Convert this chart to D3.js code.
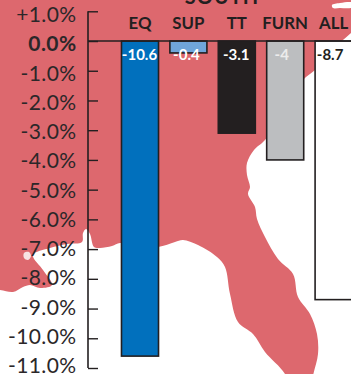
<!DOCTYPE html>
<html>
<head>
<meta charset="utf-8">
<script src="https://cdn.jsdelivr.net/npm/d3@7"></script>
<style>
html,body{margin:0;padding:0;background:#fff}
svg{display:block}
text{font-family:Lato,"Open Sans",sans-serif}
</style>
</head>
<body>
<svg id="chart" width="351" height="374"></svg>
<script>
// Returns by fund category, South region
const categories = ["EQ", "SUP", "TT", "FURN", "ALL"];
const values = [-10.6, -0.4, -3.1, -4, -8.7];
const barFills = ["#0170bd", "#70a5da", "#231f20", "#bcbec0", "#ffffff"];
const labelFills = ["#ffffff", "#ffffff", "#ffffff", "#ececec", "#231f20"];
const tickValues = [1, 0, -1, -2, -3, -4, -5, -6, -7, -8, -9, -10, -11];
const tickLabels = ["+1.0%", "0.0%", "-1.0%", "-2.0%", "-3.0%", "-4.0%", "-5.0%", "-6.0%", "-7.0%", "-8.0%", "-9.0%", "-10.0%", "-11.0%"];

// Outline of the southeastern states behind the bars
const regionOutline = [
  [-20,-20],[371,-20],[371,16],[351,33],[330,52],[315,70],[303,80],[285,110],[265,140],[254,150],[247,163],[247,175],
  [250,187],[248,194],[255,207],[257,219],[265,237],[278,259],[293,274],[298,297],[310,314],[317,334],
  [318,354],[313,376],[310,400],[295,400],[285,374],[265,352],[253,334],[238,322],[230,294],[225,267],[217,257],[198,245],
  [183,240],[175,242],[158,247],[135,246],[120,243],[112,246],[100,248],[94,247],[90,234],[86,229],[83,233],[82,242],[67,244],
  [50,248],[33,255],[43,270],[52,285],[40,288],[30,285],[23,287],[13,292],[0,290],[-20,290]
];
const inletSpot = [[24,253],[29,252],[31,256],[28,260],[24,258]];
const atlanticIsland = [[332,5],[340,3],[351,2],[360,4],[351,8],[340,8],[333,8]];

const svg = d3.select("#chart");

const y = d3.scaleLinear().domain([1, -11]).range([11.3, 368]);
const labelY = d3.scaleLinear().domain([1, -11]).range([15, 366]);
const x = d3.scaleBand().domain(categories).range([115.8, 357.8]).paddingInner(0.235).paddingOuter(0.1175);

const smooth = d3.line().curve(d3.curveCatmullRomClosed.alpha(0.5));
svg.append("path").attr("d", smooth(regionOutline)).attr("fill", "#dd686e");
svg.append("path").attr("d", smooth(inletSpot)).attr("fill", "#f7e3e3");
svg.append("path").attr("d", smooth(atlanticIsland)).attr("fill", "#fff");

svg.append("text").attr("x", 222).attr("y", 4).attr("text-anchor", "middle")
  .attr("font-size", 20).attr("font-weight", 700).attr("letter-spacing", 1).attr("fill", "#231f20").text("SOUTH");

// Bars hang down from the zero line
svg.selectAll("rect.bar").data(categories).join("rect").attr("class", "bar")
  .attr("x", d => x(d))
  .attr("y", y(0))
  .attr("width", x.bandwidth())
  .attr("height", (d, i) => y(values[i]) - y(0))
  .attr("fill", (d, i) => barFills[i])
  .attr("stroke", "#231f20")
  .attr("stroke-width", 1.6);

// Vertical axis with its percentage labels
const axis = d3.axisLeft(y).tickValues(tickValues).tickSize(-10)
  .tickFormat((d, i) => tickLabels[i]);
const axisG = svg.append("g").attr("transform", "translate(88,0)").call(axis);
axisG.select(".domain").attr("d", `M0,${y(1)}V${y(-11)}`).attr("stroke", "#231f20").attr("stroke-width", 1.6).attr("fill", "none");
axisG.selectAll(".tick line").attr("stroke", "#231f20").attr("stroke-width", 1.4);
axisG.selectAll(".tick text").attr("font-size", 21).attr("fill", "#2b2729")
  .attr("font-family", "Lato,'Open Sans',sans-serif").attr("letter-spacing", 0.4)
  .attr("x", -11.5)
  .attr("y", d => labelY(d) - y(d))
  .attr("font-weight", d => d === 0 ? 700 : 400);

// Zero line across the bars
svg.append("line").attr("x1", 88).attr("x2", 351).attr("y1", y(0)).attr("y2", y(0))
  .attr("stroke", "#231f20").attr("stroke-width", 1.6);

// Category headers
svg.selectAll("text.cat").data(categories).join("text").attr("class", "cat")
  .attr("x", d => x(d) + x.bandwidth() / 2)
  .attr("y", 29)
  .attr("text-anchor", "middle")
  .attr("font-size", 16.8).attr("font-weight", 700).attr("fill", "#231f20")
  .text(d => d);

// Value labels just under the zero line, each set slightly off its bar's centre
const labelNudge = [-0.5, -2, -0.5, -3.5, -3.5];
svg.selectAll("text.val").data(categories).join("text").attr("class", "val")
  .attr("x", (d, i) => x(d) + x.bandwidth() / 2 + labelNudge[i])
  .attr("y", 60)
  .attr("text-anchor", "middle")
  .attr("font-size", 15).attr("font-weight", 700)
  .attr("fill", (d, i) => labelFills[i])
  .text((d, i) => values[i]);
</script>
</body>
</html>
